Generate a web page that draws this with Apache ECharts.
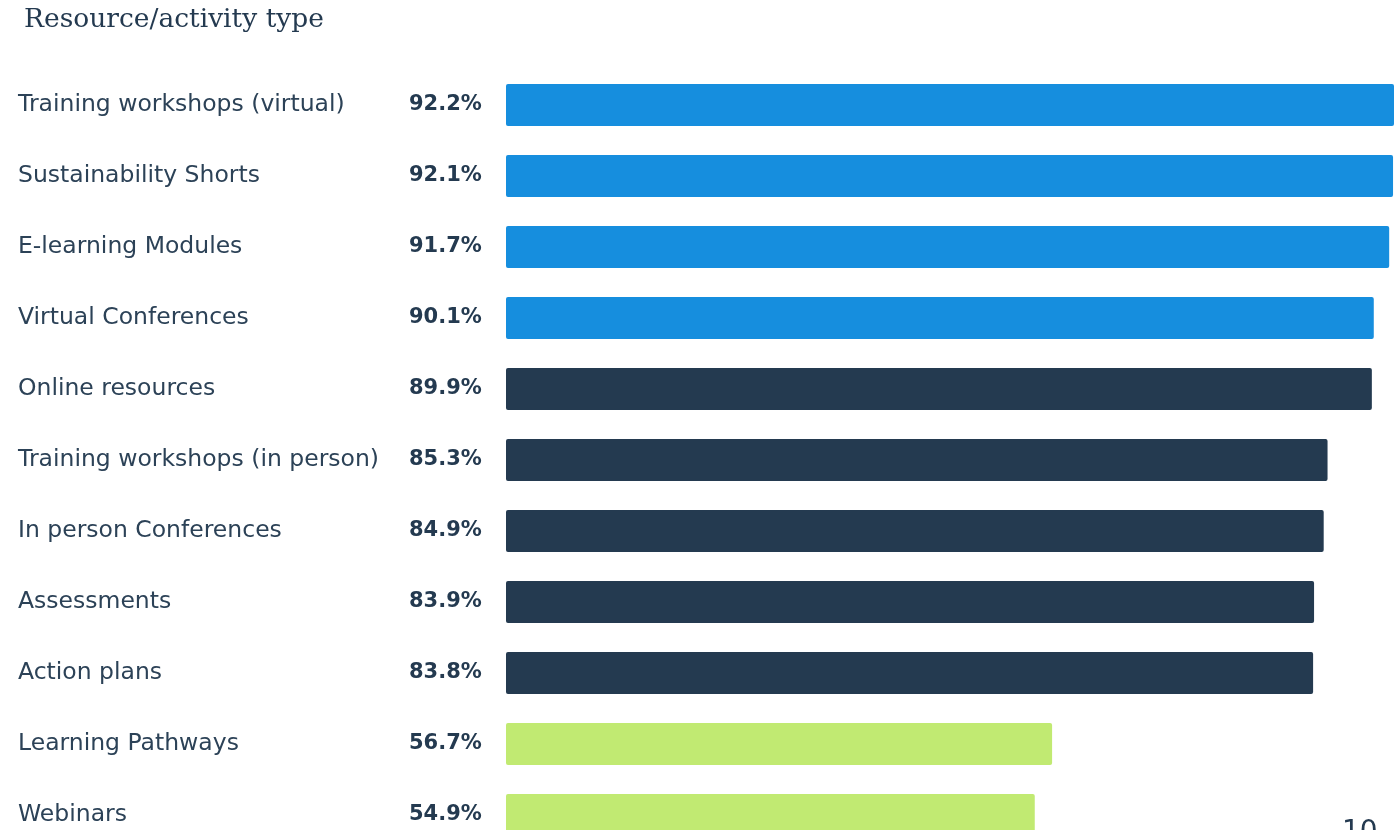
<!DOCTYPE html>
<html>
<head>
<meta charset="utf-8">
<script src="https://cdn.jsdelivr.net/npm/echarts@6/dist/echarts.min.js"></script>
<style>html,body{margin:0;padding:0;background:#fff}#c{width:1395px;height:830px}</style>
</head>
<body>
<div id="c"></div>
<script>
const categories = [
  'Training workshops (virtual)',
  'Sustainability Shorts',
  'E-learning Modules',
  'Virtual Conferences',
  'Online resources',
  'Training workshops (in person)',
  'In person Conferences',
  'Assessments',
  'Action plans',
  'Learning Pathways',
  'Webinars'
];
const values = [92.2, 92.1, 91.7, 90.1, 89.9, 85.3, 84.9, 83.9, 83.8, 56.7, 54.9];
const tiers = [0, 0, 0, 0, 1, 1, 1, 1, 1, 2, 2];
const palette = ['#168ede', '#243a50', '#c1ea72'];
const textColor = '#243a50';

const chart = echarts.init(document.getElementById('c'));
chart.setOption({
  backgroundColor: '#ffffff',
  animation: false,
  grid: { left: 506, right: 1, top: 69.5, height: 781, containLabel: false, outerBoundsMode: 'none' },
  xAxis: {
    type: 'value', min: 0, max: Math.max(...values),
    show: false
  },
  yAxis: {
    type: 'category', data: categories, inverse: true,
    axisLine: { show: false }, axisTick: { show: false },
    axisLabel: {
      align: 'left', margin: 488,
      color: '#2c4257', fontFamily: 'DejaVu Sans', fontSize: 23.5
    }
  },
  series: [{
    type: 'bar',
    barWidth: 42,
    data: values.map((v, i) => ({ value: v, itemStyle: { color: palette[tiers[i]] } })),
    itemStyle: { borderRadius: 2 },
    label: {
      show: true,
      position: [-97, '50%'],
      align: 'left', verticalAlign: 'middle',
      formatter: p => p.value.toFixed(1) + '%',
      color: textColor, fontFamily: 'DejaVu Sans', fontWeight: 'bold', fontSize: 21
    }
  }],
  graphic: [
    { type: 'text', left: 24, top: 7, style: { text: 'Resource/activity type', fill: textColor, font: '26.5px "DejaVu Serif"' } },
    { type: 'text', left: 1342, top: 819, style: { text: '10', fill: textColor, font: '28px "DejaVu Sans"' } }
  ]
});
</script>
</body>
</html>
